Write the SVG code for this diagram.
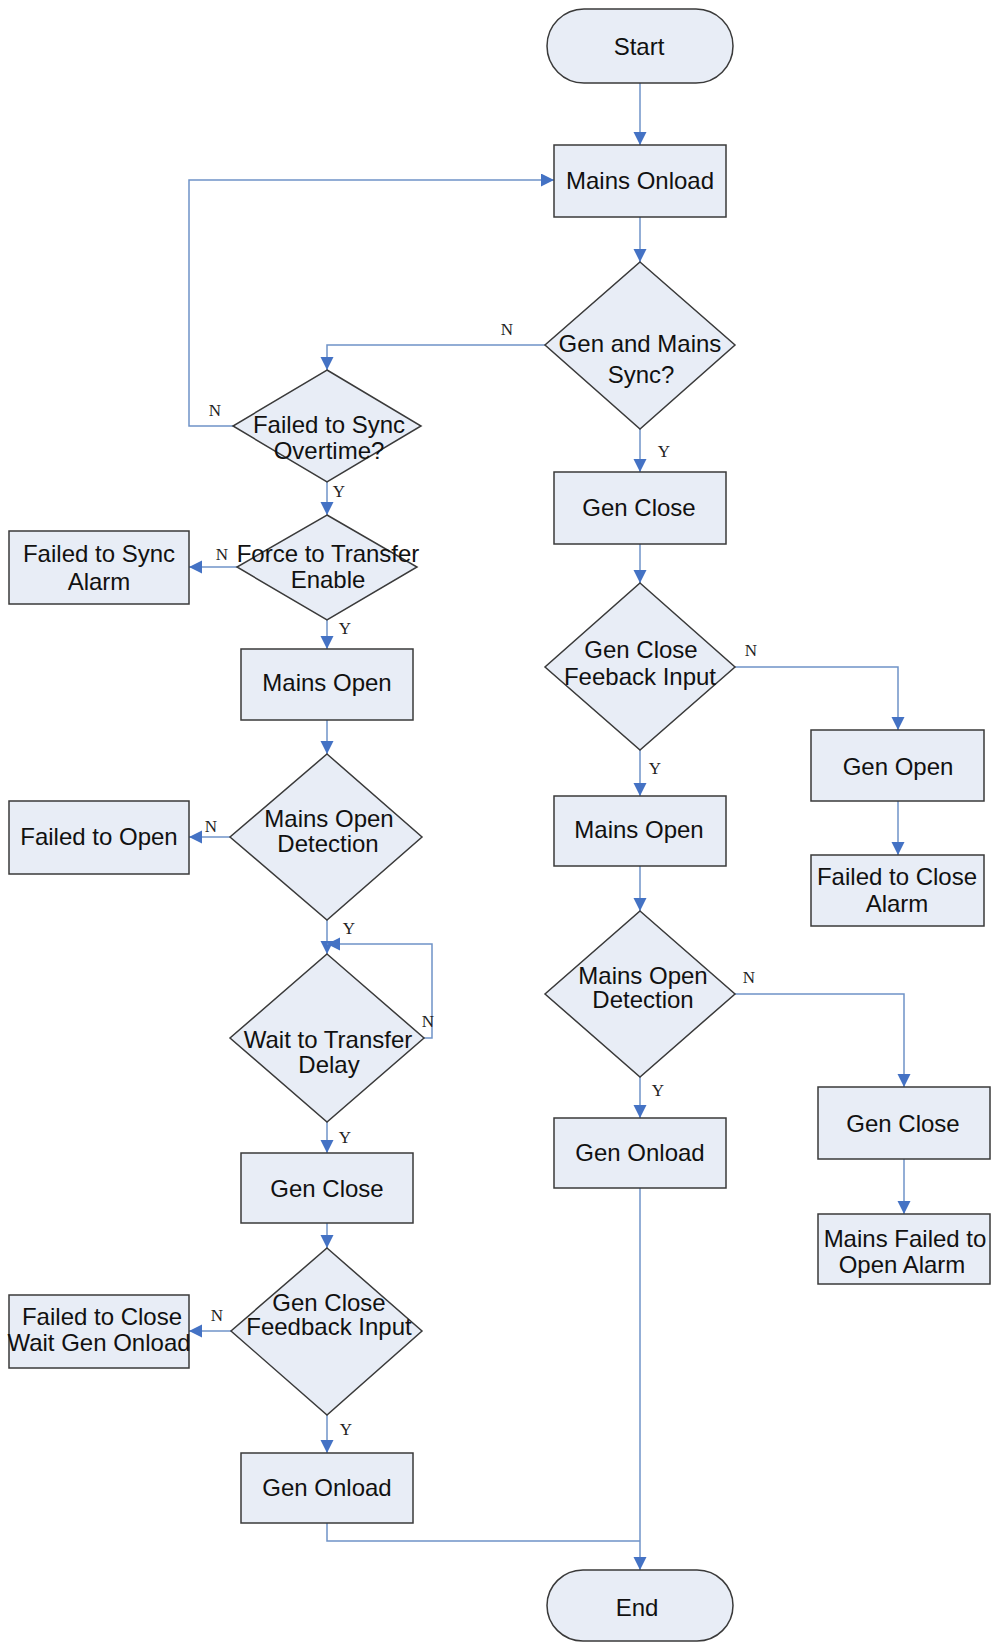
<svg xmlns="http://www.w3.org/2000/svg" width="993" height="1642" viewBox="0 0 993 1642">
<style>
.n{fill:#E8EDF6;stroke:#3a3a3a;stroke-width:1.5}
.t{font-family:"Liberation Sans",Arial,sans-serif;font-size:24px;fill:#111;text-anchor:middle;dominant-baseline:central}
.c{fill:none;stroke:#6F93C8;stroke-width:1.5}
.l{font-family:"Liberation Serif","Times New Roman",serif;font-size:17px;fill:#222;text-anchor:middle;dominant-baseline:central}
</style>
<defs>
<marker id="a" markerUnits="userSpaceOnUse" markerWidth="15" markerHeight="14" refX="13" refY="6.5" orient="auto">
<path d="M0,0 L13,6.5 L0,13 Z" fill="#4472C4"/>
</marker>
</defs>
<rect width="993" height="1642" fill="#fff"/>

<g id="connectors">
<path class="c" d="M640,83 V145" marker-end="url(#a)"/>
<path class="c" d="M640,217 V262" marker-end="url(#a)"/>
<path class="c" d="M545,345 H327 V370" marker-end="url(#a)"/>
<path class="c" d="M233,426 H189 V180 H554" marker-end="url(#a)"/>
<path class="c" d="M327,482 V515" marker-end="url(#a)"/>
<path class="c" d="M237,567 H189" marker-end="url(#a)"/>
<path class="c" d="M327,620 V649" marker-end="url(#a)"/>
<path class="c" d="M327,720 V754" marker-end="url(#a)"/>
<path class="c" d="M230,837 H189" marker-end="url(#a)"/>
<path class="c" d="M327,920 V954" marker-end="url(#a)"/>
<path class="c" d="M424,1038 H432 V944 H327" marker-end="url(#a)"/>
<path class="c" d="M327,1122 V1153" marker-end="url(#a)"/>
<path class="c" d="M327,1223 V1248" marker-end="url(#a)"/>
<path class="c" d="M231,1331 H189" marker-end="url(#a)"/>
<path class="c" d="M327,1415 V1453" marker-end="url(#a)"/>
<path class="c" d="M327,1523 V1541 H640"/>
<path class="c" d="M640,1188 V1570" marker-end="url(#a)"/>
<path class="c" d="M640,429 V472" marker-end="url(#a)"/>
<path class="c" d="M640,544 V583" marker-end="url(#a)"/>
<path class="c" d="M735,667 H898 V730" marker-end="url(#a)"/>
<path class="c" d="M898,801 V855" marker-end="url(#a)"/>
<path class="c" d="M640,750 V796" marker-end="url(#a)"/>
<path class="c" d="M640,866 V911" marker-end="url(#a)"/>
<path class="c" d="M735,994 H904 V1087" marker-end="url(#a)"/>
<path class="c" d="M904,1159 V1214" marker-end="url(#a)"/>
<path class="c" d="M640,1077 V1118" marker-end="url(#a)"/>
<text class="l" x="507" y="329">N</text>
<text class="l" x="215" y="410">N</text>
<text class="l" x="339" y="491">Y</text>
<text class="l" x="222" y="554">N</text>
<text class="l" x="345" y="628">Y</text>
<text class="l" x="211" y="826">N</text>
<text class="l" x="349" y="928">Y</text>
<text class="l" x="428" y="1021">N</text>
<text class="l" x="345" y="1137">Y</text>
<text class="l" x="217" y="1315">N</text>
<text class="l" x="346" y="1429">Y</text>
<text class="l" x="664" y="451">Y</text>
<text class="l" x="751" y="650">N</text>
<text class="l" x="655" y="768">Y</text>
<text class="l" x="749" y="977">N</text>
<text class="l" x="658" y="1090">Y</text>
</g>

<g id="start"><rect class="n" x="547" y="9" width="186" height="74" rx="37"/><text class="t" x="639" y="46">Start</text></g>
<g id="mains_onload"><rect class="n" x="554" y="145" width="172" height="72"/><text class="t" x="640" y="180">Mains Onload</text></g>
<g id="sync_check"><path class="n" d="M640,262 L735,345 L640,429 L545,345 Z"/><text class="t" x="640" y="343">Gen and Mains</text><text class="t" x="641" y="374">Sync?</text></g>
<g id="fail_sync_overtime"><path class="n" d="M327,370 L421,426 L327,482 L233,426 Z"/><text class="t" x="329" y="424">Failed to Sync</text><text class="t" x="329" y="450">Overtime?</text></g>
<g id="force_transfer"><path class="n" d="M327,515 L417,567 L327,620 L237,567 Z"/><text class="t" x="328" y="553">Force to Transfer</text><text class="t" x="328" y="579">Enable</text></g>
<g id="fail_sync_alarm"><rect class="n" x="9" y="531" width="180" height="73"/><text class="t" x="99" y="553">Failed to Sync</text><text class="t" x="99" y="581">Alarm</text></g>
<g id="mains_open_l"><rect class="n" x="241" y="649" width="172" height="71"/><text class="t" x="327" y="682">Mains Open</text></g>
<g id="mains_open_det_l"><path class="n" d="M327,754 L422,837 L327,920 L230,837 Z"/><text class="t" x="329" y="818">Mains Open</text><text class="t" x="328" y="843">Detection</text></g>
<g id="failed_open"><rect class="n" x="9" y="801" width="180" height="73"/><text class="t" x="99" y="836">Failed to Open</text></g>
<g id="wait_transfer"><path class="n" d="M327,954 L424,1038 L327,1122 L230,1038 Z"/><text class="t" x="328" y="1039">Wait to Transfer</text><text class="t" x="329" y="1064">Delay</text></g>
<g id="gen_close_l"><rect class="n" x="241" y="1153" width="172" height="70"/><text class="t" x="327" y="1188">Gen Close</text></g>
<g id="gen_close_fb_l"><path class="n" d="M327,1248 L422,1331 L327,1415 L231,1331 Z"/><text class="t" x="329" y="1302">Gen Close</text><text class="t" x="329" y="1326">Feedback Input</text></g>
<g id="fail_close_wait"><rect class="n" x="9" y="1295" width="180" height="73"/><text class="t" x="102" y="1316">Failed to Close</text><text class="t" x="99" y="1342">Wait Gen Onload</text></g>
<g id="gen_onload_l"><rect class="n" x="241" y="1453" width="172" height="70"/><text class="t" x="327" y="1487">Gen Onload</text></g>
<g id="end"><rect class="n" x="547" y="1570" width="186" height="71" rx="36"/><text class="t" x="637" y="1607">End</text></g>
<g id="gen_close_r"><rect class="n" x="554" y="472" width="172" height="72"/><text class="t" x="639" y="507">Gen Close</text></g>
<g id="gen_close_fb_r"><path class="n" d="M640,583 L735,667 L640,750 L545,667 Z"/><text class="t" x="641" y="649">Gen Close</text><text class="t" x="640" y="676">Feeback Input</text></g>
<g id="gen_open"><rect class="n" x="811" y="730" width="173" height="71"/><text class="t" x="898" y="766">Gen Open</text></g>
<g id="fail_close_alarm"><rect class="n" x="811" y="855" width="173" height="71"/><text class="t" x="897" y="876">Failed to Close</text><text class="t" x="897" y="903">Alarm</text></g>
<g id="mains_open_r"><rect class="n" x="554" y="796" width="172" height="70"/><text class="t" x="639" y="829">Mains Open</text></g>
<g id="mains_open_det_r"><path class="n" d="M640,911 L735,994 L640,1077 L545,994 Z"/><text class="t" x="643" y="975">Mains Open</text><text class="t" x="643" y="999">Detection</text></g>
<g id="gen_close_r2"><rect class="n" x="818" y="1087" width="172" height="72"/><text class="t" x="903" y="1123">Gen Close</text></g>
<g id="mains_failed_open"><rect class="n" x="818" y="1214" width="172" height="70"/><text class="t" x="905" y="1238">Mains Failed to</text><text class="t" x="902" y="1264">Open Alarm</text></g>
<g id="gen_onload_r"><rect class="n" x="554" y="1118" width="172" height="70"/><text class="t" x="640" y="1152">Gen Onload</text></g>
</svg>
